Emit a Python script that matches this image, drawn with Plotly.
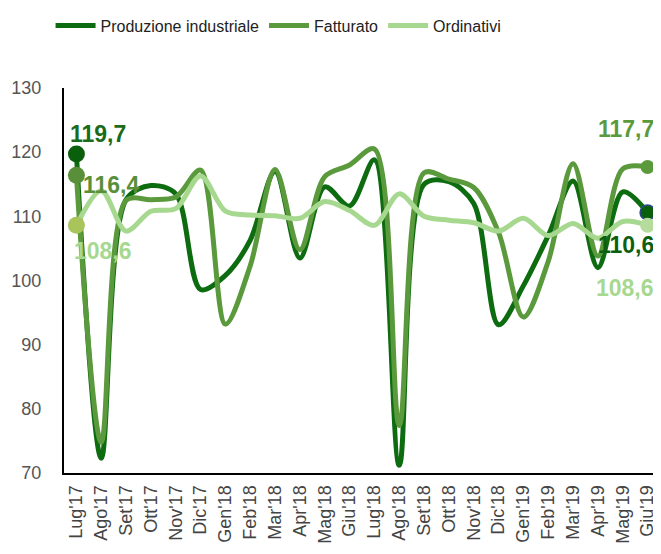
import plotly.graph_objects as go

mesi = ["Lug'17", "Ago'17", "Set'17", "Ott'17", "Nov'17", "Dic'17",
        "Gen'18", "Feb'18", "Mar'18", "Apr'18", "Mag'18", "Giu'18",
        "Lug'18", "Ago'18", "Set'18", "Ott'18", "Nov'18", "Dic'18",
        "Gen'19", "Feb'19", "Mar'19", "Apr'19", "Mag'19", "Giu'19"]

produzione = [119.7, 72.3, 112.6, 114.8, 113.5, 98.6, 100.8, 106.3, 117.0, 103.5, 114.6, 111.6,
              118.8, 71.2, 115.0, 115.4, 112.0, 93.1, 99.2, 107.0, 115.5, 102.0, 113.8, 110.6]
fatturato = [116.4, 74.8, 112.5, 112.6, 113.0, 117.2, 93.2, 102.3, 117.3, 104.8, 116.2, 118.0,
             120.5, 77.4, 116.8, 115.8, 114.5, 107.5, 94.3, 103.0, 118.2, 103.8, 117.4, 117.7]
ordinativi = [108.6, 114.0, 107.7, 110.8, 111.2, 116.3, 110.8, 110.2, 110.1, 109.7, 112.3, 110.9,
              108.6, 113.5, 110.0, 109.4, 109.0, 107.7, 109.7, 107.0, 108.9, 106.6, 109.2, 108.6]

serie = [
    ("Produzione industriale", produzione, "#0d6b10"),
    ("Fatturato", fatturato, "#5a9a3c"),
    ("Ordinativi", ordinativi, "#a7d88f"),
]

fig = go.Figure()

for nome, valori, colore in serie:
    fig.add_trace(go.Scatter(
        x=mesi, y=valori, name=nome, mode="lines",
        line=dict(color=colore, width=5, shape="spline", smoothing=0.9),
    ))

# marker su primo e ultimo punto
fig.add_trace(go.Scatter(x=[mesi[0]], y=[produzione[0]], mode="markers", showlegend=False,
                         marker=dict(size=17, color="#0a5f0c")))
fig.add_trace(go.Scatter(x=[mesi[0]], y=[fatturato[0]], mode="markers", showlegend=False,
                         marker=dict(size=17, color="#5a8f3a")))
fig.add_trace(go.Scatter(x=[mesi[0]], y=[ordinativi[0]], mode="markers", showlegend=False,
                         marker=dict(size=17, color="#a9c45a")))
fig.add_trace(go.Scatter(x=[mesi[-1]], y=[fatturato[-1]], mode="markers", showlegend=False,
                         marker=dict(size=14, color="#5a9a3c")))
fig.add_trace(go.Scatter(x=[mesi[-1]], y=[produzione[-1]], mode="markers", showlegend=False,
                         marker=dict(size=15, color="#0a5f0c", line=dict(color="#2a4a8a", width=1.5))))
fig.add_trace(go.Scatter(x=[mesi[-1]], y=[ordinativi[-1]], mode="markers", showlegend=False,
                         marker=dict(size=15, color="#b5dc9c")))

# (indice, valore, testo, colore, xshift, spostamento verso il basso, ancoraggio)
etichette = [
    (0, produzione[0], "119,7", "#1a6b1a", -8, -20, "left"),
    (0, fatturato[0], "116,4", "#5a8f3a", 5, 10, "left"),
    (0, ordinativi[0], "108,6", "#a7d88f", -4, 26, "left"),
    (23, fatturato[-1], "117,7", "#5a9a3c", 8, -38, "right"),
    (23, produzione[-1], "110,6", "#0d5f10", 8, 33, "right"),
    (23, ordinativi[-1], "108,6", "#a7d88f", 8, 63, "right"),
]
for i, v, testo, col, dx, dy, anc in etichette:
    fig.add_annotation(x=mesi[i], y=v, text="<b>%s</b>" % testo, showarrow=False,
                       xanchor=anc, xshift=dx, yshift=-dy,
                       font=dict(family="Liberation Sans, Arial", size=23, color=col))

# la pagina ha un margine di 8px: figura ridotta di conseguenza
fig.update_layout(
    width=653, height=546,
    margin=dict(l=56, r=1, t=75, b=81),
    paper_bgcolor="white", plot_bgcolor="white",
    font=dict(family="Liberation Sans, Arial", color="#404040"),
    legend=dict(orientation="h", x=0.36, xanchor="center", y=1.162, yanchor="middle",
                font=dict(size=16, color="#222222"), itemwidth=40, tracegroupgap=0,
                bgcolor="rgba(0,0,0,0)"),
    xaxis=dict(type="category", range=[-0.5, 23.5], showgrid=False, automargin=False,
               showline=True, linecolor="black", linewidth=2,
               tickangle=-90, tickfont=dict(size=18, color="#444444"),
               ticks="outside", ticklen=3, tickcolor="rgba(0,0,0,0)"),
    yaxis=dict(range=[70, 130], dtick=10, showgrid=False, zeroline=False, automargin=False,
               showline=True, linecolor="black", linewidth=2,
               tickfont=dict(size=18, color="#555555"),
               ticks="outside", ticklen=17, tickcolor="rgba(0,0,0,0)"),
)

fig.write_html("out.html")
